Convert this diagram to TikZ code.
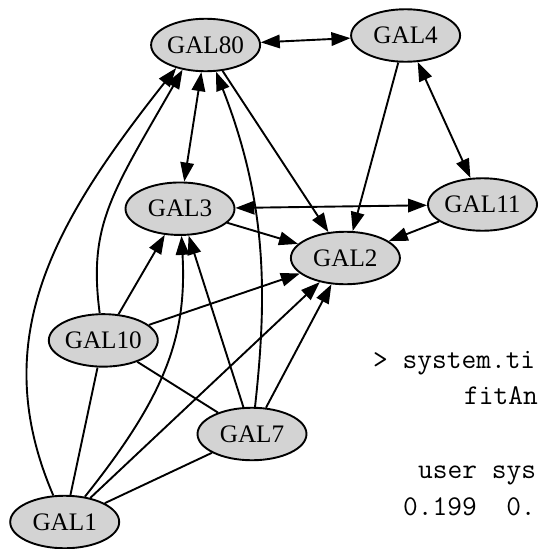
\documentclass[tikz,border=0pt]{standalone}
\usepackage{fontspec}
\setmainfont{Liberation Serif}
\usetikzlibrary{shapes.geometric,arrows.meta}
\definecolor{nodegray}{RGB}{211,211,211}
\begin{document}
\begin{tikzpicture}[x=1pt,y=-1pt,
  gnode/.style={ellipse, draw=black, fill=nodegray, line width=1.9pt,
    minimum width=109pt, minimum height=52.5pt, inner sep=0pt,
    font=\fontsize{25.2}{30}\selectfont},
  plainlink/.style={line width=1.9pt, black},
  onearrow/.style={plainlink, -{Triangle[length=19pt,width=13.5pt]}},
  twoarrow/.style={plainlink, {Triangle[length=19pt,width=13.5pt]}-{Triangle[length=19pt,width=13.5pt]}},
  console/.style={font=\ttfamily\fontsize{28.6}{34}\selectfont, inner sep=0pt, anchor=base west}]
\path[use as bounding box] (0,0) rectangle (539,549);
\clip (0,0) rectangle (539,549);
\fill[white] (0,0) rectangle (539,549);

% genes
\node[gnode] (GAL80) at (205.6,45)    {GAL80};
\node[gnode] (GAL4)  at (405.6,35.5)  {GAL4};
\node[gnode] (GAL3)  at (180,208.7)   {GAL3};
\node[gnode] (GAL11) at (482.5,204.5) {GAL11};
\node[gnode] (GAL2)  at (345.4,258)   {GAL2};
\node[gnode] (GAL10) at (103.3,340.4) {GAL10};
\node[gnode] (GAL7)  at (252,434)     {GAL7};
\node[gnode] (GAL1)  at (64.7,522)    {GAL1};

% straight interactions
\draw[twoarrow] (GAL80) -- (GAL4);
\draw[twoarrow] (GAL80) -- (GAL3);
\draw[onearrow] (GAL80) -- (GAL2);
\draw[onearrow] (GAL4) -- (GAL2);
\draw[twoarrow] (GAL4) -- (GAL11);
\draw[twoarrow] (GAL3) -- (GAL11);
\draw[onearrow] (GAL3) -- (GAL2);
\draw[onearrow] (GAL11) -- (GAL2);
\draw[onearrow] (GAL10) -- (GAL3);
\draw[onearrow] (GAL10) -- (GAL2);
\draw[onearrow] (GAL1) -- (GAL2);
\draw[onearrow] (GAL7) -- (GAL2);
\draw[onearrow] (GAL7) -- (GAL3);
\draw[plainlink] (GAL10) -- (GAL7);
\draw[plainlink] (GAL10) -- (GAL1);
\draw[plainlink] (GAL7) -- (GAL1);

% curved interactions
\draw[onearrow] (GAL1) .. controls (-13,341) and (51,226) .. (GAL80.218);
\draw[onearrow] (GAL10) .. controls (88,225) and (112,193) .. (GAL80.227);
\draw[onearrow] (GAL1) .. controls (166,395) and (187,336) .. (GAL3);
\draw[onearrow] (GAL7) .. controls (268,290) and (266,200) .. (GAL80);

% console output
\node[console] (cmd1) at (373,368) {> system.ti};
\node[console] (cmd2) at (464,404) {fitAn};
\node[console] (res1) at (418,478) {user sys};
\node[console] (res2) at (403,515) {0.199\ \ 0.};
\end{tikzpicture}
\end{document}
